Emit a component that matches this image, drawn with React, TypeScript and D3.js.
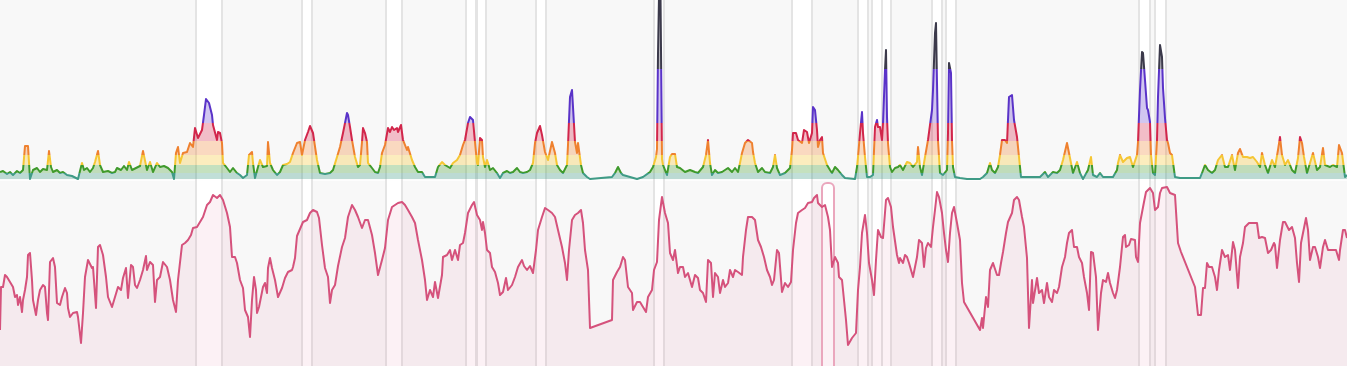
import React, { useLayoutEffect } from "react";
import * as d3 from "d3";

const WIDTH = 1347;
const HEIGHT = 366;
const TOP_BASE = 179;
const BOTTOM_TOP = 181;

// time slots (30-min) and pollution index readings
const pmReadings: [number, number][] = [
[0,7],[3,8],[7,5],[10,7],[13,4],[17,8],[20,6],[23,9],[25,33],[28,33],[30,0],[33,9],[37,11],[40,7],[43,10],[47,9],[49,28],[51,12],[53,7],[57,9],[60,6],[63,7],[67,4],[72,3],[78,0],[82,16],[84,9],[87,11],[90,7],[93,11],[95,17],[98,28],[100,14],[103,7],[108,8],[112,6],[115,7],[117,11],[121,9],[124,13],[127,9],[129,17],[132,9],[136,11],[140,13],[143,28],[147,9],[150,17],[153,7],[157,16],[160,12],[164,13],[168,11],[172,7],[174,0],[176,26],[178,32],[180,16],[183,26],[187,27],[190,36],[193,32],[195,51],[198,41],[202,49],[204,64],[206,80],[209,76],[212,64],[213,54],[217,39],[218,47],[220,46],[222,36],[223,16],[227,11],[230,7],[233,11],[237,6],[240,4],[243,1],[247,4],[249,24],[252,27],[253,16],[255,1],[258,12],[260,19],[263,12],[267,13],[268,37],[270,16],[273,9],[277,4],[280,7],[283,14],[287,15],[290,17],[293,26],[297,36],[300,37],[302,24],[305,39],[308,47],[310,53],[313,46],[317,19],[320,6],[325,5],[330,6],[333,9],[337,22],[340,32],[343,46],[347,66],[348,64],[350,52],[352,39],[355,22],[358,12],[360,14],[362,37],[363,51],[365,46],[367,37],[368,16],[372,11],[375,7],[378,6],[380,12],[382,26],[385,34],[388,51],[390,47],[392,52],[394,49],[397,51],[398,47],[401,54],[403,39],[407,29],[408,32],[412,19],[415,12],[418,7],[422,7],[425,2],[430,2],[435,2],[438,12],[442,17],[445,14],[450,11],[453,16],[457,19],[460,24],[463,34],[465,39],[468,56],[470,62],[473,59],[475,37],[477,16],[478,14],[480,41],[482,39],[483,22],[485,12],[487,19],[488,16],[490,9],[493,11],[497,6],[500,1],[503,6],[507,8],[510,6],[513,7],[517,11],[520,7],[523,6],[527,7],[530,9],[533,16],[535,36],[537,46],[540,53],[542,44],[545,27],[548,19],[552,37],[555,26],[557,14],[560,9],[563,6],[567,14],[568,34],[570,82],[572,89],[573,72],[575,37],[577,26],[578,36],[581,14],[583,6],[587,2],[590,0],[612,2],[615,6],[618,12],[621,6],[623,4],[630,2],[637,0],[643,2],[650,7],[653,12],[656,22],[657,30],[658,125],[660,240],[662,20],[663,14],[667,4],[670,22],[672,25],[675,25],[677,12],[680,11],[685,7],[690,9],[695,7],[698,6],[703,12],[706,24],[708,39],[710,16],[712,4],[715,9],[718,6],[722,7],[725,9],[728,11],[732,7],[735,11],[738,7],[740,16],[742,26],[745,36],[748,39],[752,36],[753,27],[755,16],[758,7],[762,11],[765,7],[770,6],[773,12],[775,24],[777,11],[780,4],[785,6],[790,11],[792,29],[793,46],[796,46],[798,39],[802,36],[804,49],[807,47],[809,36],[812,46],[813,72],[815,69],[817,49],[818,32],[820,39],[822,42],[823,26],[827,14],[830,9],[832,6],[835,12],[838,9],[842,4],[845,1],[855,0],[857,12],[858,22],[860,46],[862,67],[863,46],[865,22],[867,2],[870,2],[873,4],[875,52],[877,59],[878,52],[880,52],[882,39],[883,56],[885,109],[886,129],[887,62],[888,36],[890,12],[892,7],[895,11],[898,12],[900,14],[903,9],[907,17],[910,16],[913,12],[917,17],[918,32],[920,12],[922,4],[925,22],[928,39],[932,69],[933,89],[935,146],[936,156],[937,96],[938,39],[940,6],[943,4],[947,9],[948,46],[949,116],[951,106],[952,39],[953,12],[955,2],[960,1],[967,0],[980,0],[983,2],[987,6],[990,16],[992,9],[995,6],[998,12],[1000,24],[1002,39],[1005,39],[1007,36],[1009,82],[1012,84],[1014,59],[1017,42],[1019,22],[1021,2],[1027,2],[1033,2],[1040,2],[1045,7],[1048,2],[1053,7],[1057,6],[1060,9],[1063,19],[1067,36],[1068,31],[1071,16],[1073,6],[1077,17],[1080,6],[1083,0],[1088,9],[1091,22],[1093,4],[1097,2],[1100,6],[1103,2],[1107,2],[1113,2],[1117,9],[1118,16],[1120,24],[1123,17],[1127,21],[1130,22],[1133,12],[1137,24],[1138,37],[1140,89],[1142,127],[1143,126],[1145,99],[1147,71],[1148,69],[1150,57],[1151,24],[1153,6],[1155,4],[1157,39],[1158,82],[1160,134],[1162,122],[1163,91],[1165,61],[1167,39],[1168,36],[1170,26],[1172,24],[1175,2],[1180,1],[1200,1],[1202,6],[1205,14],[1208,9],[1212,6],[1215,9],[1218,19],[1222,24],[1225,12],[1228,12],[1232,24],[1235,9],[1238,26],[1240,30],[1243,22],[1247,22],[1250,21],[1253,22],[1257,17],[1260,12],[1262,26],[1265,14],[1268,6],[1272,19],[1275,12],[1278,29],[1280,42],[1282,24],[1285,14],[1288,19],[1292,9],[1295,6],[1298,21],[1300,42],[1302,36],[1304,22],[1307,6],[1310,16],[1313,26],[1317,9],[1320,12],[1323,31],[1325,14],[1330,12],[1333,14],[1337,12],[1339,34],[1342,26],[1345,2],[1347,4]
];

// second measurement series (same time slots)
const secondReadings: [number, number][] = [
[0,36],[1,79],[3,79],[5,91],[7,89],[10,84],[13,79],[15,69],[17,71],[18,61],[20,69],[22,54],[23,66],[25,76],[27,89],[28,111],[30,113],[32,86],[33,66],[36,51],[38,66],[40,76],[43,81],[45,79],[47,53],[48,46],[50,104],[53,108],[55,99],[57,63],[60,61],[62,69],[65,78],[67,73],[68,58],[70,49],[73,53],[77,54],[78,49],[81,23],[83,53],[85,89],[88,106],[92,98],[93,99],[96,58],[98,119],[100,121],[103,111],[106,89],[108,69],[112,59],[115,69],[118,79],[121,76],[123,88],[126,98],[128,68],[131,101],[133,99],[135,81],[137,78],[140,86],[143,96],[146,110],[147,96],[150,104],[153,101],[155,64],[157,86],[160,89],[163,104],[167,99],[170,86],[173,66],[176,54],[178,86],[182,121],[185,123],[188,126],[191,131],[193,138],[197,139],[200,144],[203,149],[207,161],[210,164],[213,171],[217,168],[220,171],[223,166],[227,153],[230,139],[232,109],[235,109],[237,103],[240,86],[243,78],[245,56],[248,49],[250,29],[252,66],[254,89],[256,76],[257,53],[259,59],[261,69],[263,79],[265,83],[267,73],[268,98],[270,108],[272,98],[275,86],[278,69],[282,78],[285,88],[288,94],[292,96],[293,99],[295,108],[297,130],[300,137],[303,144],[307,146],[310,153],[313,156],[317,154],[319,148],[322,121],[325,98],[328,89],[330,63],[332,76],[335,81],[338,100],[342,119],[345,128],[348,149],[352,161],[355,156],[358,149],[362,138],[365,146],[368,146],[372,131],[375,113],[378,91],[382,106],[385,118],[388,146],[392,159],[395,161],[398,163],[402,164],[405,161],[408,156],[412,149],[415,143],[418,126],[422,106],[425,86],[427,66],[430,76],[433,69],[435,84],[438,68],[442,91],[443,109],[447,111],[450,116],[452,106],[455,116],[458,106],[460,121],[463,123],[465,133],[468,153],[472,161],[474,164],[477,151],[480,146],[482,136],[483,144],[485,133],[487,116],[490,113],[492,99],[495,94],[498,83],[500,71],[503,74],[506,88],[508,76],[512,81],[515,89],[518,99],[522,106],[524,100],[527,96],[530,100],[533,93],[536,116],[538,136],[542,149],[545,158],[548,156],[552,153],[555,149],[558,136],[562,119],[565,103],[567,86],[569,116],[572,146],[575,151],[578,153],[581,156],[583,143],[585,116],[588,96],[590,38],[612,46],[613,86],[617,94],[620,99],[623,109],[625,106],[628,79],[632,73],[633,56],[637,64],[640,64],[643,59],[646,54],[648,69],[652,76],[654,96],[657,104],[659,146],[662,169],[665,153],[668,143],[670,113],[673,106],[675,116],[678,93],[680,99],[683,99],[685,89],[688,93],[690,86],[692,79],[695,91],[698,88],[700,76],[703,73],[706,64],[708,106],[711,103],[713,69],[715,93],[718,89],[720,73],[723,86],[725,79],[728,83],[730,96],[733,89],[735,96],[738,94],[742,91],[743,109],[746,136],[748,149],[752,149],[755,146],[758,126],[761,119],[764,109],[767,96],[770,89],[772,81],[774,86],[777,116],[779,113],[782,74],[785,83],[788,79],[791,84],[793,116],[796,143],[798,153],[802,156],[805,158],[808,163],[812,164],[814,168],[817,171],[818,163],[822,159],[825,161],[828,149],[830,136],[832,99],[835,109],[838,103],[839,89],[842,86],[843,76],[846,46],[848,21],[852,28],[856,33],[858,76],[860,99],[862,133],[865,151],[867,133],[869,103],[872,86],[874,71],[876,106],[878,136],[881,129],[883,128],[886,166],[888,168],[891,159],[893,139],[897,111],[899,103],[900,108],[903,103],[905,111],[907,109],[909,103],[913,89],[915,99],[917,109],[919,126],[922,123],[924,99],[926,118],[928,123],[931,119],[933,139],[935,156],[937,174],[939,169],[942,153],[944,133],[946,116],[948,104],[950,133],[952,153],[954,159],[957,143],[960,126],[962,83],[964,64],[980,36],[982,48],[983,38],[986,69],[988,59],[990,96],[993,103],[997,91],[999,91],[1001,103],[1003,114],[1006,133],[1008,144],[1012,153],[1014,166],[1017,169],[1019,166],[1022,149],[1024,139],[1027,108],[1029,38],[1032,86],[1033,63],[1037,88],[1039,73],[1042,76],[1044,63],[1047,83],[1049,69],[1052,64],[1054,76],[1057,73],[1059,79],[1062,99],[1065,109],[1067,123],[1069,133],[1072,136],[1074,119],[1077,119],[1079,109],[1082,103],[1084,89],[1087,73],[1089,56],[1091,114],[1093,113],[1096,89],[1098,36],[1101,73],[1103,86],[1106,84],[1108,93],[1110,83],[1113,73],[1115,68],[1117,76],[1120,99],[1123,129],[1125,131],[1126,119],[1129,121],[1131,127],[1135,126],[1136,109],[1138,104],[1140,143],[1144,164],[1146,174],[1150,178],[1153,173],[1155,156],[1158,159],[1160,173],[1162,178],[1167,179],[1170,173],[1175,171],[1178,123],[1181,114],[1195,79],[1198,51],[1201,51],[1203,78],[1205,78],[1207,103],[1209,99],[1212,99],[1215,89],[1217,76],[1219,96],[1222,116],[1225,109],[1228,111],[1230,96],[1233,124],[1235,116],[1238,78],[1240,109],[1243,123],[1245,139],[1249,143],[1254,143],[1257,143],[1259,128],[1262,129],[1265,128],[1268,113],[1271,116],[1274,123],[1275,121],[1277,98],[1280,126],[1283,144],[1285,144],[1289,136],[1292,139],[1295,128],[1297,103],[1299,84],[1301,123],[1304,138],[1306,148],[1308,136],[1310,106],[1313,119],[1315,119],[1318,109],[1320,98],[1323,119],[1325,126],[1328,116],[1330,116],[1334,116],[1336,116],[1339,106],[1340,116],[1343,136],[1345,136],[1347,128]
];

// highlighted time ranges (slots)
const highlightRanges: [number, number][] = [
  [196, 222], [302, 312], [386, 402], [466, 476], [477, 486], [536, 546],
  [654, 664], [792, 812], [858, 868], [872, 882], [882, 891], [932, 942],
  [946, 956], [1139, 1150], [1155, 1166],
];
const selectedRange: [number, number] = [822, 834];

// level thresholds for the index
const levelThresholds = [0, 6, 14, 24, 38, 56, 110, 1000];
const levelLineColors = ["#3f9b86", "#3f9a2c", "#f5c634", "#ef812f", "#d2264b", "#5a33c8", "#3c3a4b"];
const levelFillColors = [
  "rgba(62,154,134,0.32)", "rgba(63,154,44,0.3)", "rgba(246,200,52,0.32)",
  "rgba(240,129,46,0.3)", "rgba(211,37,74,0.3)", "rgba(91,50,201,0.28)", "rgba(60,58,75,0.35)",
];

export default function App() {
  useLayoutEffect(() => {
    document.body.style.margin = "0";
    document.body.style.overflow = "hidden";
  }, []);

  const x = d3.scaleLinear().domain([0, 1347]).range([0, WIDTH]);
  const yTop = d3.scaleLinear().domain([0, 179]).range([TOP_BASE, 0]);
  const yBot = d3.scaleLinear().domain([0, 185]).range([HEIGHT, BOTTOM_TOP]);

  const lineTop = d3.line<[number, number]>().x((d) => x(d[0])).y((d) => yTop(d[1]));
  const areaTop = d3.area<[number, number]>().x((d) => x(d[0])).y0(yTop(0)).y1((d) => yTop(d[1]));
  const lineBot = d3.line<[number, number]>().x((d) => x(d[0])).y((d) => yBot(d[1]));
  const areaBot = d3.area<[number, number]>().x((d) => x(d[0])).y0(yBot(0)).y1((d) => yBot(d[1]));

  const topLinePath = lineTop(pmReadings) || "";
  const topAreaPath = areaTop(pmReadings) || "";

  const bands = levelThresholds.slice(0, -1).map((lo, i) => ({
    lo,
    hi: levelThresholds[i + 1],
    line: levelLineColors[i],
    fill: levelFillColors[i],
  }));

  return (
    <svg
      width={WIDTH}
      height={HEIGHT}
      style={{ position: "absolute", left: 0, top: 0, display: "block" }}
    >
      <defs>
        <clipPath id="topArea">
          <path d={topAreaPath} />
        </clipPath>
        <clipPath id="topPanel">
          <rect x={0} y={0} width={WIDTH} height={TOP_BASE + 1} />
        </clipPath>
        {bands.map((b, i) => (
          <clipPath id={`lvl${i}`} key={i}>
            <rect
              x={0}
              y={yTop(b.hi)}
              width={WIDTH}
              height={yTop(b.lo) - yTop(b.hi) + (i === 0 ? 3 : 0)}
            />
          </clipPath>
        ))}
      </defs>

      <rect x={0} y={0} width={WIDTH} height={HEIGHT} fill="#f8f8f8" />
      <rect x={0} y={TOP_BASE + 0.5} width={WIDTH} height={1.5} fill="#fdfdfd" />

      {highlightRanges.map(([a, b], i) => (
        <rect key={`hl${i}`} x={x(a)} y={0} width={x(b) - x(a)} height={HEIGHT} fill="#ffffff" />
      ))}
      {highlightRanges.map(([a, b], i) => (
        <g key={`hb${i}`} stroke="#e4e4e4" strokeWidth={2}>
          <line x1={x(a)} x2={x(a)} y1={0} y2={HEIGHT} />
          <line x1={x(b)} x2={x(b)} y1={0} y2={HEIGHT} />
        </g>
      ))}
      <rect
        x={x(selectedRange[0])}
        y={BOTTOM_TOP + 2}
        width={x(selectedRange[1]) - x(selectedRange[0])}
        height={HEIGHT}
        rx={5}
        fill="#ffffff"
      />

      <g clipPath="url(#topPanel)">
        <g clipPath="url(#topArea)">
          {bands.map((b, i) => (
            <rect
              key={`bf${i}`}
              x={0}
              y={yTop(b.hi)}
              width={WIDTH}
              height={yTop(b.lo) - yTop(b.hi)}
              fill={b.fill}
            />
          ))}
        </g>
        {bands.map((b, i) => (
          <path
            key={`bl${i}`}
            d={topLinePath}
            fill="none"
            stroke={b.line}
            strokeWidth={2}
            strokeLinejoin="round"
            clipPath={`url(#lvl${i})`}
          />
        ))}
      </g>

      <path d={areaBot(secondReadings) || ""} fill="rgba(214,82,122,0.08)" />
      <rect
        x={x(selectedRange[0])}
        y={BOTTOM_TOP + 2}
        width={x(selectedRange[1]) - x(selectedRange[0])}
        height={HEIGHT}
        rx={5}
        fill="none"
        stroke="#eaa7bd"
        strokeWidth={2}
      />
      <path
        d={lineBot(secondReadings) || ""}
        fill="none"
        stroke="#d5527c"
        strokeWidth={2}
        strokeLinejoin="round"
      />
    </svg>
  );
}
